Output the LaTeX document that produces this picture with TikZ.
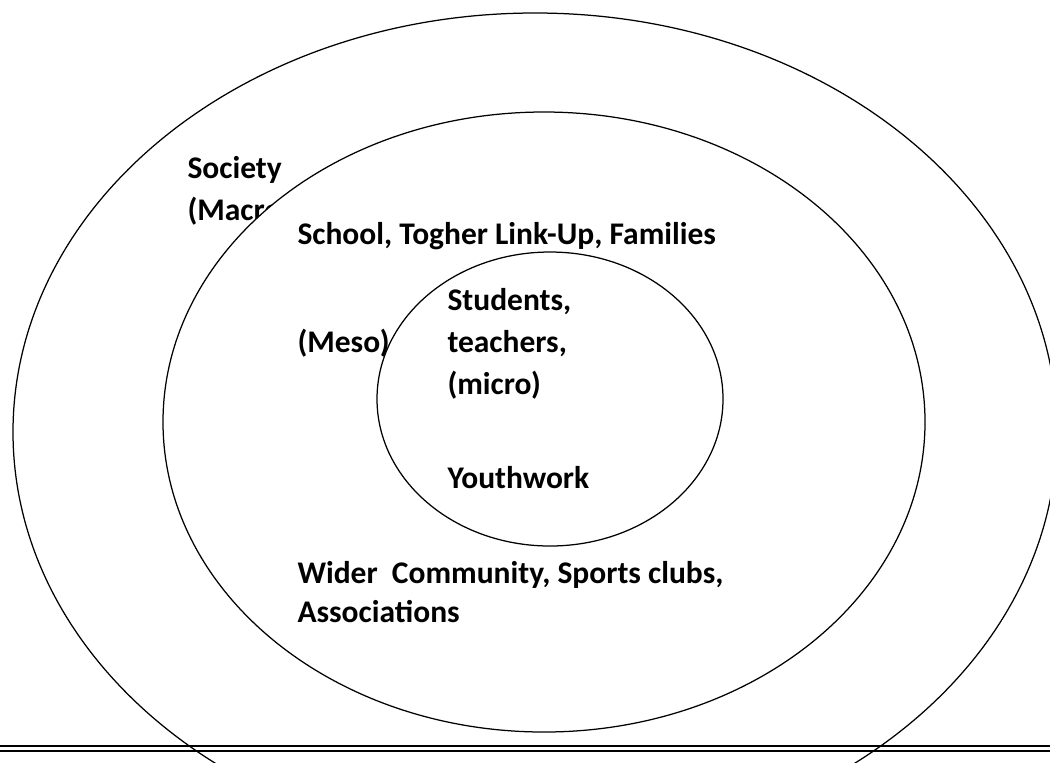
\documentclass[tikz,border=0pt]{standalone}
\usepackage{fontspec}
\setmainfont{Carlito}
\tikzset{
  ring/.style={draw=black, line width=0.5pt, fill=white},
  label/.style={anchor=base west, inner sep=0pt, font=\fontsize{12.6}{15}\selectfont\bfseries},
  rule/.style={draw=black, line width=0.8pt}
}
\begin{document}
\begin{tikzpicture}[x=0.4pt,y=-0.4pt]
\useasboundingbox (0,0) rectangle (1050,762);
\clip (0,0) rectangle (1050,762);
\coordinate (c1) at (535,432);
\coordinate (c2) at (544,422);
\coordinate (c3) at (550,399);
\coordinate (l1) at (0,746);
\coordinate (r1) at (1050,746);
\coordinate (l2) at (0,751);
\coordinate (r2) at (1050,751);

% macro level
\draw[ring] (c1) ellipse [x radius=522, y radius=419];
\node[label] (society) at (187,178) {Society};
\node[label] (macro) at (187,220) {(Macro)};

% meso level
\draw[ring] (c2) ellipse [x radius=381, y radius=310];
\node[label] (school) at (297,244) {School, Togher Link-Up, Families};
\node[label] (meso) at (297,352) {(Meso)};
\node[label] (wider) at (297,583) {Wider\ \ Community, Sports clubs,};
\node[label] (assoc) at (297,622) {Associations};

% micro level
\draw[ring] (c3) ellipse [x radius=173, y radius=147];
\node[label] (students) at (447,310) {Students,};
\node[label] (teachers) at (447,352) {teachers,};
\node[label] (micro) at (447,394) {(micro)};
\node[label] (youth) at (447,488) {Youthwork};

\draw[rule] (l1) -- (r1);
\draw[rule] (l2) -- (r2);
\end{tikzpicture}
\end{document}
